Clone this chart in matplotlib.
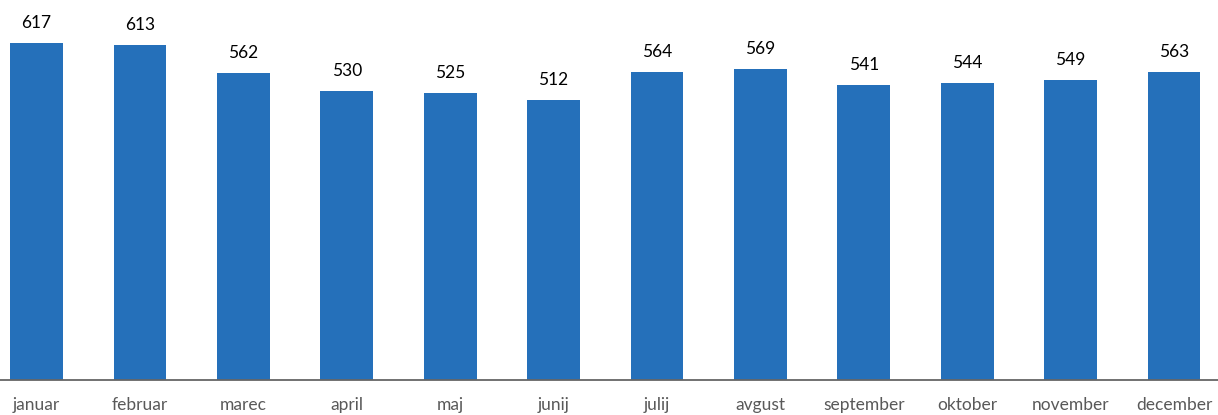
import matplotlib
matplotlib.use("Agg")
import matplotlib.pyplot as plt

months = ["januar", "februar", "marec", "april", "maj", "junij", "julij",
          "avgust", "september", "oktober", "november", "december"]
values = [617, 613, 562, 530, 525, 512, 564, 569, 541, 544, 549, 563]

plt.rcParams['font.family'] = ['Lato', 'DejaVu Sans']

W, H = 1218, 415
fig = plt.figure(figsize=(W / 100, H / 100), dpi=100)
ax_bottom = 380
ax = fig.add_axes([0, (H - ax_bottom) / H, 1, ax_bottom / H])

x = list(range(len(months)))
bars = ax.bar(x, values, width=0.51, color="#2570BA")

px_per_unit = 337 / 617
ax.set_ylim(0, ax_bottom / px_per_unit)
spacing = (1174 - 36.5) / 11
ax.set_xlim(-36.5 / spacing, 11 + 44 / spacing)

for xi, v in zip(x, values):
    ax.annotate(str(v), (xi, v), xytext=(0, 12), textcoords="offset pixels",
                ha="center", va="bottom", fontsize=12.5, color="black")

ax.set_xticks(x)
ax.set_xticklabels(months, fontsize=12.5, color="#595959")
ax.tick_params(axis="x", length=0, pad=12)
ax.set_yticks([])
for s in ["top", "left", "right"]:
    ax.spines[s].set_visible(False)
ax.spines["bottom"].set_color("#666666")
ax.spines["bottom"].set_linewidth(1.3)

fig.savefig("out.png", dpi=100)
